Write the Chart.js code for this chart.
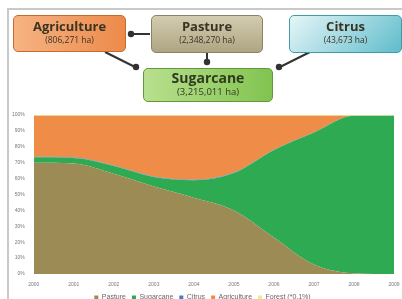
<!DOCTYPE html>
<html><head><meta charset="utf-8">
<script src="https://cdn.jsdelivr.net/npm/chart.js@4/dist/chart.umd.min.js"></script>
<style>
html,body{margin:0;padding:0;background:#fff;}
#wrap{position:relative;width:402px;height:299px;overflow:hidden;font-family:"Open Sans","DejaVu Sans",sans-serif;}
#frame{position:absolute;left:7px;top:8px;width:400px;height:300px;border-left:2px solid #c9c9c9;border-top:2px solid #c9c9c9;}
canvas{position:absolute;left:0;top:0;}
.box{position:absolute;border-radius:5px;text-align:center;box-sizing:border-box;color:#3b3324;}
.box .t{font-weight:bold;font-size:13px;line-height:15px;margin-top:3px;}
.box .s{font-size:8.5px;line-height:11px;}
svg{position:absolute;left:0;top:0;}
</style></head>
<body><div id="wrap">
<div id="frame"></div>
<canvas id="c" width="402" height="311"></canvas>
<svg width="402" height="110">
 <g stroke="#333" stroke-width="2" fill="#333">
  <line x1="150" y1="34" x2="132" y2="34"/><circle cx="131" cy="34" r="2.2"/>
  <line x1="105" y1="52" x2="135" y2="67"/><circle cx="136" cy="67" r="2.2"/>
  <line x1="207" y1="53" x2="207" y2="62"/><circle cx="207" cy="62" r="2.2"/>
  <line x1="310" y1="52" x2="280" y2="67"/><circle cx="279" cy="67" r="2.2"/>
 </g>
</svg>
<div class="box" style="left:13px;top:15px;width:113px;height:37px;background:linear-gradient(90deg,#f6b383,#ec8a4a);border:1.5px solid #c9692a;">
 <div class="t">Agriculture</div><div class="s">(806,271 ha)</div></div>
<div class="box" style="left:151px;top:15px;width:112px;height:38px;background:linear-gradient(180deg,#d3ccb0,#aea583);border:1.5px solid #8a8262;">
 <div class="t">Pasture</div><div class="s">(2,348,270 ha)</div></div>
<div class="box" style="left:289px;top:15px;width:113px;height:38px;background:linear-gradient(135deg,#e6f6f8,#5fbccb);border:1.5px solid #3e9cab;">
 <div class="t">Citrus</div><div class="s">(43,673 ha)</div></div>
<div class="box" style="left:143px;top:68px;width:130px;height:34px;background:linear-gradient(90deg,#b9e08e,#82c350);border:1.5px solid #5f9a36;color:#2f3a20;">
 <div class="t" style="font-size:14px;line-height:16px;margin-top:1px;">Sugarcane</div><div class="s" style="font-size:9.5px;">(3,215,011 ha)</div></div>
</div>
<script>
const years = ["2000","2001","2002","2003","2004","2005","2006","2007","2008","2009"];
const pasture = [70, 69.5, 63, 55, 48, 40, 23, 6, 0.5, 0];
const sugarcane = [3.4, 3.5, 5, 6, 11, 23.5, 55, 83, 99, 99.5];
const citrus = [0.3, 0.3, 0.3, 0.3, 0.3, 0.3, 0.2, 0.2, 0.1, 0.1];
const forest = [0.4, 0.4, 0.4, 0.4, 0.4, 0.4, 0.4, 0.4, 0.4, 0.4];
const agriculture = years.map((_, i) => 100 - pasture[i] - sugarcane[i] - citrus[i] - forest[i]);
const seriesNames = ["Pasture", "Sugarcane", "Citrus", "Agriculture", "Forest (*0.1%)"];
const colors = ["#9c8b55", "#2eaa52", "#4a7cc2", "#ef8c47", "#e6ef8a"];
const values = [pasture, sugarcane, citrus, agriculture, forest];

new Chart(document.getElementById('c'), {
  type: 'line',
  data: {
    labels: years,
    datasets: seriesNames.map((n, i) => ({
      label: n, data: values[i],
      backgroundColor: colors[i], borderColor: colors[i],
      borderWidth: 0, pointRadius: 0, fill: i === 0 ? 'origin' : '-1',
      cubicInterpolationMode: 'monotone'
    }))
  },
  options: {
    responsive: false, animation: false,
    layout: { padding: { top: 115, left: 11, right: 8, bottom: 0 } },
    scales: {
      x: { offset: false, grid: { display: false }, border: { display: false },
           ticks: { font: { size: 5 }, color: '#777', maxRotation: 0, padding: 0 } },
      y: { stacked: true, min: 0, max: 100, grid: { display: false }, border: { display: false },
           ticks: { stepSize: 10, font: { size: 5 }, color: '#777', padding: 1, callback: v => v + '%' } }
    },
    plugins: {
      legend: { position: 'bottom', labels: { font: { size: 7 }, color: '#666', boxWidth: 4, boxHeight: 4, padding: 6 } },
      tooltip: { enabled: false }
    }
  }
});
</script>
</body></html>
